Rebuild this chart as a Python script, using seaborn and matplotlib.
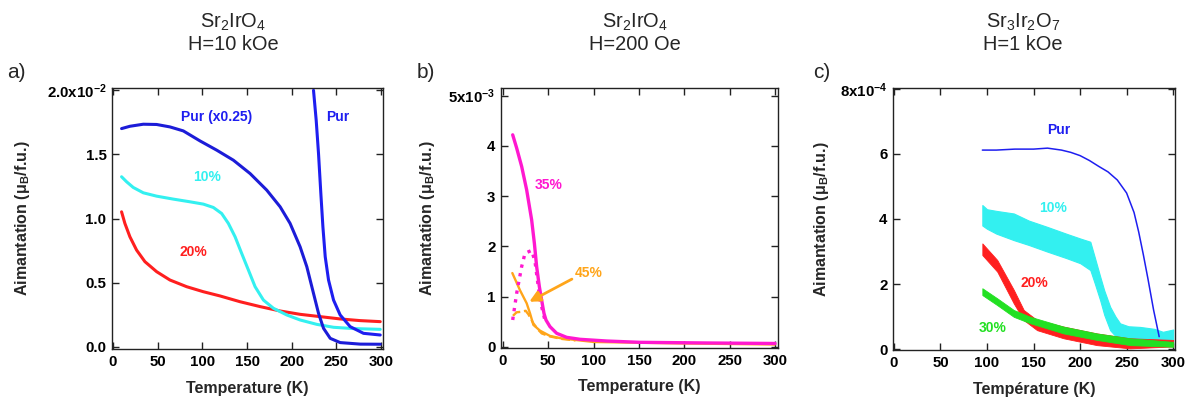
import numpy as np
import pandas as pd
import matplotlib
matplotlib.use("Agg")
import matplotlib.pyplot as plt
from matplotlib.ticker import FixedLocator, FuncFormatter
import seaborn as sns

# ---- panel a: Sr2IrO4, H=10 kOe (values in 1e-2 muB/f.u.) ----
a_pur_scaled_T = [9.7, 19.0, 34.0, 48.9, 63.8, 78.7, 97.4, 116.1, 134.7, 153.4, 172.0, 187.0,
                  198.1, 209.3, 216.8, 224.3, 229.9, 235.5, 243.0, 254.1, 276.5, 298.9]
a_pur_scaled_M = [1.700, 1.718, 1.734, 1.732, 1.713, 1.682, 1.604, 1.532, 1.454, 1.350, 1.221, 1.091,
                  0.962, 0.780, 0.625, 0.417, 0.262, 0.145, 0.067, 0.034, 0.022, 0.021]
a_pur_T = [224.3, 227.3, 229.9, 232.5, 234.8, 237.4, 241.1, 246.7, 254.1, 265.3, 280.2, 298.9]
a_pur_M = [1.998, 1.765, 1.506, 1.195, 0.936, 0.702, 0.521, 0.365, 0.249, 0.158, 0.106, 0.093]
a_10_T = [9.7, 15.3, 22.7, 34.0, 48.9, 67.5, 86.2, 101.1, 112.3, 121.6, 129.1, 136.6, 144.0,
          151.5, 159.0, 168.3, 179.5, 194.4, 209.3, 227.9, 246.7, 269.0, 298.9]
a_10_M = [1.325, 1.286, 1.242, 1.200, 1.174, 1.151, 1.130, 1.112, 1.086, 1.039, 0.962, 0.858, 0.728,
          0.599, 0.469, 0.365, 0.301, 0.249, 0.210, 0.176, 0.153, 0.143, 0.137]
a_20_T = [9.7, 13.4, 19.0, 26.5, 35.8, 48.9, 63.8, 82.5, 101.1, 119.8, 142.2, 164.6, 187.0,
          209.3, 231.7, 254.1, 276.5, 298.9]
a_20_M = [1.052, 0.962, 0.858, 0.754, 0.664, 0.586, 0.521, 0.469, 0.430, 0.397, 0.352, 0.314, 0.280,
          0.254, 0.236, 0.218, 0.205, 0.197]

# ---- panel b: Sr2IrO4, H=200 Oe (values in 1e-3 muB/f.u.) ----
b_35_T = [10.7, 15.1, 20.6, 26.1, 31.6, 34.6, 37.1, 40.1, 42.6, 45.2, 47.4, 51.8, 59.2, 70.2,
          84.9, 114.3, 151.0, 225, 300]
b_35_M = [4.219, 3.954, 3.589, 3.124, 2.527, 2.063, 1.599, 1.201, 0.935, 0.670, 0.537, 0.405, 0.272,
          0.192, 0.153, 0.119, 0.093, 0.08, 0.07]
b_35_zfc_T = [10.7, 15.1, 20.6, 24.3, 31.6, 35.3, 40.8, 46]
b_35_zfc_M = [0.537, 1.07, 1.6, 1.865, 1.92, 1.7, 0.94, 0.55]
b_45_T = [10.3, 18.7, 26.1, 29.8, 33.5, 40.8, 51.8, 64.7, 100, 200, 300]
b_45_M = [1.47, 1.13, 0.87, 0.67, 0.44, 0.325, 0.22, 0.17, 0.1, 0.07, 0.05]
b_45_zfc_T = [11, 15, 20, 25, 28, 30.5, 33.5, 39, 42.7, 51.8, 65, 80]
b_45_zfc_M = [0.62, 0.69, 0.70, 0.72, 0.65, 0.57, 0.47, 0.34, 0.27, 0.21, 0.16, 0.13]

# ---- panel c: Sr3Ir2O7, H=1 kOe (values in 1e-4 muB/f.u.) ----
c_pur_T = [95, 110, 130, 150, 165, 180, 190, 200, 210, 220, 230, 240, 250, 258, 263, 268, 273, 279, 285]
c_pur_M = [6.12, 6.12, 6.15, 6.15, 6.18, 6.12, 6.05, 5.95, 5.8, 5.62, 5.45, 5.2, 4.8, 4.2, 3.6, 2.9, 2.15, 1.2, 0.38]
c_10_T = [95, 100, 110, 128.8, 145, 164.5, 185, 200.2, 211, 216, 221.6, 226, 232.3, 238, 243,
          252, 264.5, 280, 289, 300]
c_10_hi = [4.43, 4.3, 4.25, 4.17, 3.95, 3.76, 3.55, 3.4, 3.3, 2.8, 2.23, 1.8, 1.3, 1.0, 0.79,
           0.7, 0.68, 0.62, 0.53, 0.6]
c_10_lo = [3.8, 3.7, 3.55, 3.35, 3.2, 3.0, 2.8, 2.64, 2.43, 2.0, 1.5, 1.05, 0.58, 0.4, 0.28,
           0.22, 0.18, 0.14, 0.12, 0.15]
c_20_T = [95, 111, 128.8, 139.5, 153.8, 182.3, 218, 253.7, 300]
c_20_hi = [3.25, 2.74, 1.82, 1.2, 0.89, 0.69, 0.48, 0.33, 0.28]
c_20_lo = [2.89, 2.38, 1.4, 0.89, 0.58, 0.33, 0.12, 0.02, 0.08]
c_30_T = [95, 111, 128.8, 146.7, 182.3, 218, 253.7, 300]
c_30_hi = [1.87, 1.56, 1.2, 0.99, 0.69, 0.48, 0.33, 0.22]
c_30_lo = [1.66, 1.35, 0.99, 0.79, 0.48, 0.28, 0.12, 0.07]

BLUE = "#1c1cd8"
BLUE2 = "#1e1ef0"
CYAN = "#33f0f0"
RED = "#ff1f1f"
GREEN = "#22e022"
MAGENTA = "#ff18d0"
ORANGE = "#ffa51a"

sns.set_theme(style="ticks")
plt.rcParams["font.family"] = ["Liberation Sans", "DejaVu Sans"]
plt.rcParams["mathtext.default"] = "regular"

fig = plt.figure(figsize=(11.93, 3.99), dpi=100)
W, H = 1193, 399


def add_ax(left, right, top, bottom):
    return fig.add_axes([left / W, 1 - bottom / H, (right - left) / W, (bottom - top) / H])


def line(ax, T, M, color, lw, ls="-"):
    df = pd.DataFrame({"T": T, "M": M})
    sns.lineplot(data=df, x="T", y="M", ax=ax, color=color, lw=lw, ls=ls,
                 sort=False, estimator=None)


def style(ax, xlim, ylim, yticks, top_label, ylabel_x, xlabel):
    ax.set_xlim(*xlim)
    ax.set_ylim(*ylim)
    ax.xaxis.set_major_locator(FixedLocator([0, 50, 100, 150, 200, 250, 300]))
    ax.yaxis.set_major_locator(FixedLocator(yticks))
    dec = 1 if (yticks[1] - yticks[0]) < 1 else 0

    def yf(v, pos):
        if abs(v - yticks[-1]) < 1e-9:
            return top_label
        return f"{v:.{dec}f}"
    ax.yaxis.set_major_formatter(FuncFormatter(yf))
    ax.tick_params(direction="in", length=5, width=1, top=True, right=True,
                   labelsize=10.8, pad=4, colors="#222222", labelcolor="black")
    for lab in ax.get_xticklabels() + ax.get_yticklabels():
        lab.set_fontweight("bold")
    for sp in ax.spines.values():
        sp.set_visible(True)
        sp.set_linewidth(1)
        sp.set_color("#222222")
    ax.set_xlabel(xlabel, fontsize=11.5, fontweight="bold")
    ax.set_ylabel("Aimantation (\u03bc$_B$/f.u.)", fontsize=11.5, fontweight="bold")
    ax.xaxis.set_label_coords(0.5, -0.15)
    ax.xaxis.label.set_va("center")
    ax.yaxis.set_label_coords(ylabel_x, 0.5)
    ax.yaxis.label.set_va("center")


lab_kw = dict(fontsize=10, fontweight="bold", ha="center", va="center")

# panel a
ax_a = add_ax(112, 383, 88, 349)
line(ax_a, a_20_T, a_20_M, RED, 2.2)
line(ax_a, a_10_T, a_10_M, CYAN, 2.2)
line(ax_a, a_pur_scaled_T, a_pur_scaled_M, BLUE, 2.2)
line(ax_a, a_pur_T, a_pur_M, BLUE2, 2.2)
ax_a.text(116.5, 1.79, "Pur (x0.25)", color=BLUE2, **lab_kw)
ax_a.text(251, 1.79, "Pur", color=BLUE2, **lab_kw)
ax_a.text(105, 1.324, "10%", color=CYAN, **lab_kw)
ax_a.text(90, 0.741, "20%", color=RED, **lab_kw)
style(ax_a, (-1, 302), (-0.016, 2.016), [0, 0.5, 1.0, 1.5, 2.0],
      "2.0x10$^{-2}$", -0.332, "Temperature (K)")

# panel b
ax_b = add_ax(501, 778, 88, 348)
line(ax_b, b_45_T, b_45_M, ORANGE, 1.7)
line(ax_b, b_45_zfc_T, b_45_zfc_M, ORANGE, 1.7, "--")
line(ax_b, b_35_zfc_T, b_35_zfc_M, MAGENTA, 2.4, ":")
line(ax_b, b_35_T, b_35_M, MAGENTA, 2.4)
ax_b.text(50, 3.22, "35%", color=MAGENTA, **lab_kw)
ax_b.annotate("", xy=(29, 0.9), xytext=(76, 1.35),
              arrowprops=dict(arrowstyle="-|>", color=ORANGE, lw=2, mutation_scale=16,
                              shrinkA=0, shrinkB=0))
ax_b.text(94.5, 1.47, "45%", color=ORANGE, **lab_kw)
style(ax_b, (-2.2, 303.3), (-0.02, 5.15), [0, 1, 2, 3, 4, 5],
      "5x10$^{-3}$", -0.264, "Temperature (K)")

# panel c
ax_c = add_ax(893, 1175, 88, 350)
ax_c.fill_between(c_10_T, c_10_lo, c_10_hi, color=CYAN, lw=0.8, edgecolor=CYAN)
ax_c.fill_between(c_20_T, c_20_lo, c_20_hi, color=RED, lw=0.6, edgecolor=RED)
ax_c.fill_between(c_30_T, c_30_lo, c_30_hi, color=GREEN, lw=0.6, edgecolor=GREEN)
line(ax_c, c_pur_T, c_pur_M, BLUE2, 1.1)
ax_c.text(176.6, 6.74, "Pur", color=BLUE2, **lab_kw)
ax_c.text(170.8, 4.33, "10%", color=CYAN, **lab_kw)
ax_c.text(151, 2.02, "20%", color=RED, **lab_kw)
ax_c.text(106.5, 0.64, "30%", color=GREEN, **lab_kw)
style(ax_c, (-1, 302), (-0.03, 8.03), [0, 2, 4, 6, 8],
      "8x10$^{-4}$", -0.253, "Temp\u00e9rature (K)")

# titles and panel letters
title_kw = dict(fontsize=14.4, ha="center", va="center")
for x, comp, field in [(233, "Sr$_2$IrO$_4$", "H=10 kOe"),
                       (635, "Sr$_2$IrO$_4$", "H=200 Oe"),
                       (1023, "Sr$_3$Ir$_2$O$_7$", "H=1 kOe")]:
    fig.text(x / W, 1 - 22 / H, comp, **title_kw)
    fig.text(x / W, 1 - 45 / H, field, **title_kw)
for x, s in [(16, "a)"), (426, "b)"), (822, "c)")]:
    fig.text(x / W, 1 - 72 / H, s, fontsize=15, ha="center", va="center")

fig.savefig("out.png", dpi=100)
